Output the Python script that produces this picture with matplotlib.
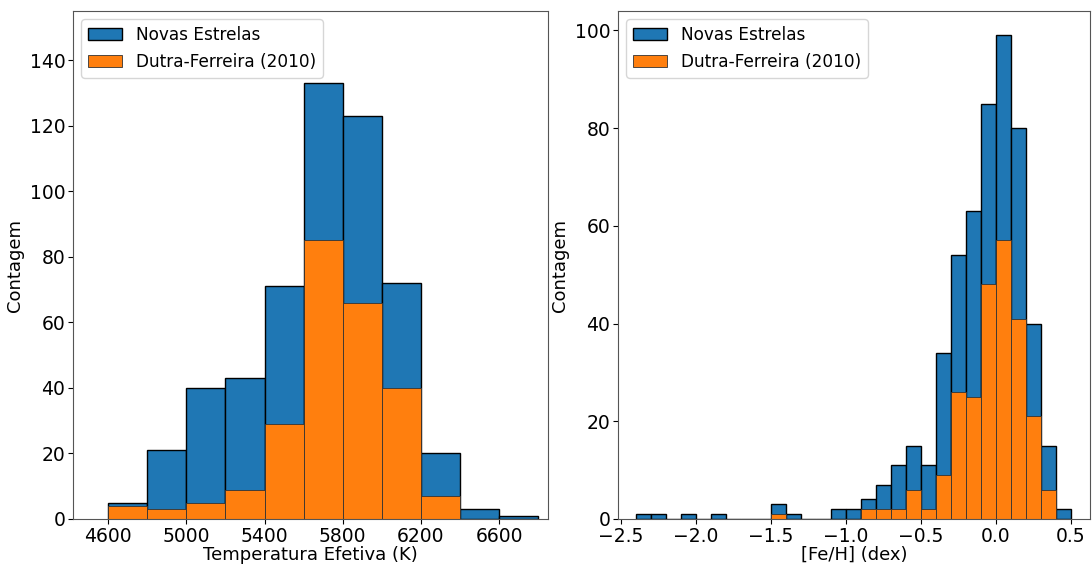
import numpy as np
import matplotlib.pyplot as plt

# Temperatura efetiva: bordas dos bins (K) e contagens
teff_edges = np.arange(4600, 6801, 200)
teff_novas = [5, 21, 40, 43, 71, 133, 123, 72, 20, 3, 1]
teff_dutra = [4, 3, 5, 9, 29, 85, 66, 40, 7, 0, 0]

# Metalicidade [Fe/H]: bordas dos bins (dex) e contagens
feh_edges = np.round(np.arange(-2.4, 0.51, 0.1), 2)
feh_novas = [1, 1, 0, 1, 0, 1, 0, 0, 0, 3, 1, 0, 0, 2, 2, 4, 7, 11, 15, 11,
             34, 54, 63, 85, 99, 80, 40, 15, 2]
feh_dutra = [0, 0, 0, 0, 0, 0, 0, 0, 0, 1, 0, 0, 0, 0, 0, 2, 2, 2, 6, 2,
             9, 26, 25, 48, 57, 41, 21, 6, 0]

fs = 13.5

fig = plt.figure(figsize=(10.92, 5.66), dpi=100)
ax1 = fig.add_axes([73/1092, 1 - 519/566, 475/1092, 508/566])
ax2 = fig.add_axes([618/1092, 1 - 519/566, 472/1092, 508/566])

ax1.hist(teff_edges[:-1], bins=teff_edges, weights=teff_novas,
         color='tab:blue', edgecolor='k', label='Novas Estrelas')
ax1.hist(teff_edges[:-1], bins=teff_edges, weights=teff_dutra,
         color='tab:orange', edgecolor='#333333', linewidth=0.6, label='Dutra-Ferreira (2010)')
ax1.set_xlim(4420, 6850)
ax1.set_ylim(0, 155)
ax1.set_xticks([4600, 5000, 5400, 5800, 6200, 6600])
ax1.set_xlabel('Temperatura Efetiva (K)', fontsize=13, labelpad=0)
ax1.set_ylabel('Contagem', fontsize=13)
ax1.legend(loc='upper left', fontsize=12.2)

ax2.hist(feh_edges[:-1] + 0.05, bins=feh_edges, weights=feh_novas,
         color='tab:blue', edgecolor='k', label='Novas Estrelas')
ax2.hist(feh_edges[:-1] + 0.05, bins=feh_edges, weights=feh_dutra,
         color='tab:orange', edgecolor='#333333', linewidth=0.6, label='Dutra-Ferreira (2010)')
ax2.set_xlim(-2.52, 0.63)
ax2.set_xlabel('[Fe/H] (dex)', fontsize=13, labelpad=0)
ax2.set_ylabel('Contagem', fontsize=13)
ax2.legend(loc='upper left', fontsize=12.2)

for ax in (ax1, ax2):
    ax.tick_params(labelsize=fs, pad=2)
    for s in ax.spines.values():
        s.set_color('#555555')

fig.savefig('out.png', dpi=100)
